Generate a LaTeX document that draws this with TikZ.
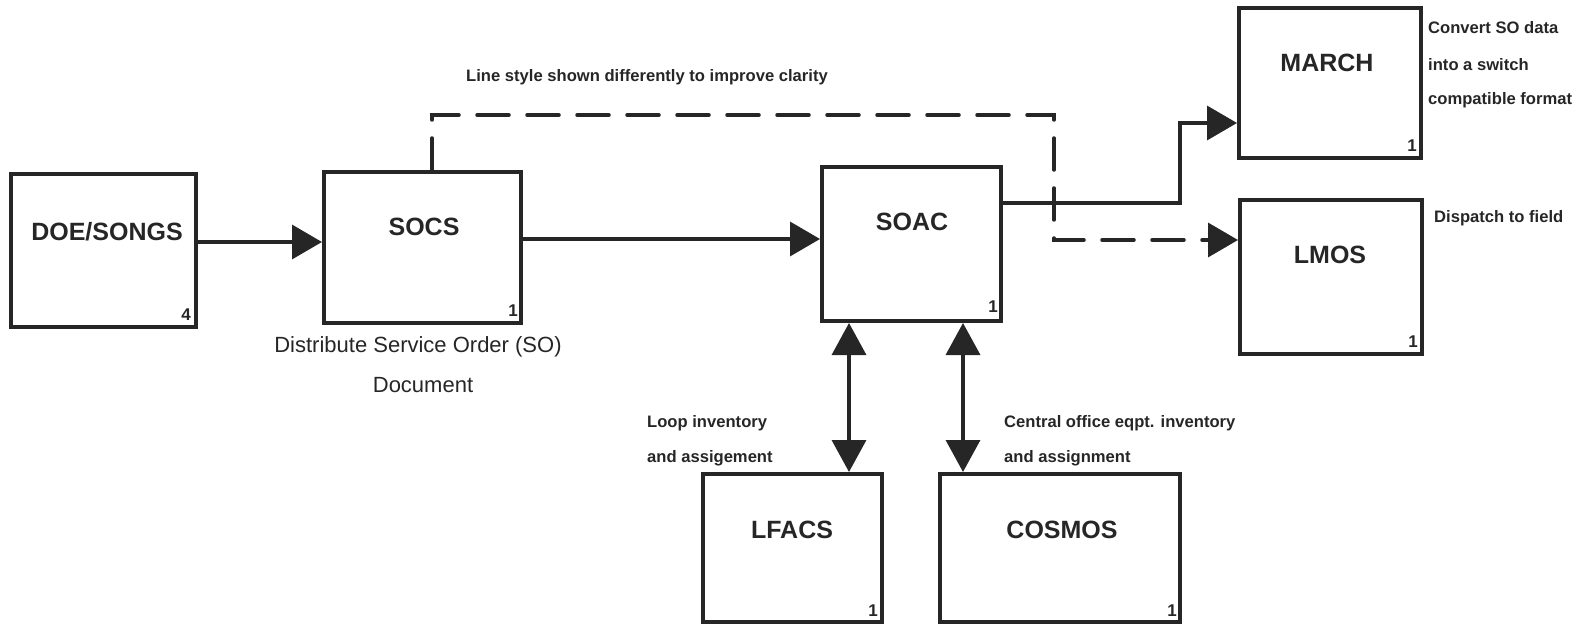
\documentclass[tikz,border=0pt]{standalone}
\usepackage{fontspec}
\setmainfont{Liberation Sans}
\usetikzlibrary{arrows.meta}
\definecolor{ink}{HTML}{262626}
\tikzset{
  box/.style={draw=ink, line width=4pt, inner sep=0pt},
  boxlbl/.style={text=ink, font=\fontsize{25}{28}\selectfont\bfseries, inner sep=0pt},
  num/.style={text=ink, font=\fontsize{17}{19}\selectfont\bfseries, inner sep=0pt, anchor=south east},
  note/.style={text=ink, font=\fontsize{16.6}{18}\selectfont\bfseries, inner sep=0pt, anchor=west},
  plain/.style={text=ink, font=\fontsize{22}{26}\selectfont, inner sep=0pt},
  arr/.style={draw=ink, line width=3.5pt, -{Triangle[length=30pt,width=34pt]}},
  darr/.style={arr, line cap=round, dash pattern=on 32pt off 18pt},
  dbl/.style={draw=ink, line width=3.5pt, {Triangle[length=32pt,width=34pt]}-{Triangle[length=32pt,width=34pt]}}
}
\begin{document}
\begin{tikzpicture}[x=1pt,y=-1pt]
\useasboundingbox (0,0) rectangle (1579,631);
% boxes
\node[box, minimum width=185pt, minimum height=153pt] (doe) at (103.5,250.5) {};
\node[box, minimum width=197pt, minimum height=151pt] (socs) at (422.5,247.5) {};
\node[box, minimum width=179pt, minimum height=154pt] (soac) at (911.5,244) {};
\node[box, minimum width=182pt, minimum height=150pt] (march) at (1330,83) {};
\node[box, minimum width=182pt, minimum height=154pt] (lmos) at (1331,277) {};
\node[box, minimum width=179pt, minimum height=148pt] (lfacs) at (792.5,548) {};
\node[box, minimum width=240pt, minimum height=148pt] (cosmos) at (1060,548) {};
% box labels
\node[boxlbl] (doet) at (107,232) {DOE/SONGS};
\node[boxlbl] (socst) at (424,227) {SOCS};
\node[boxlbl] (soact) at (912,222) {SOAC};
\node[boxlbl] (marcht) at (1327,63) {MARCH};
\node[boxlbl] (lmost) at (1330,255) {LMOS};
\node[boxlbl] (lfacst) at (792,530) {LFACS};
\node[boxlbl] (cosmost) at (1062,530) {COSMOS};
% numbers
\node[num] (doen) at ([xshift=-7pt,yshift=8pt]doe.south east) {4};
\node[num] (socsn) at ([xshift=-5pt,yshift=8pt]socs.south east) {1};
\node[num] (soacn) at ([xshift=-5pt,yshift=10pt]soac.south east) {1};
\node[num] (marchn) at ([xshift=-6pt,yshift=8pt]march.south east) {1};
\node[num] (lmosn) at ([xshift=-6pt,yshift=8pt]lmos.south east) {1};
\node[num] (lfacsn) at ([xshift=-6pt,yshift=7pt]lfacs.south east) {1};
\node[num] (cosmosn) at ([xshift=-5pt,yshift=7pt]cosmos.south east) {1};
% text
\node[plain] (dist1) at (418,347) {Distribute Service Order (SO)};
\node[plain] (dist2) at (423,385) {Document};
\node[note] (clar) at (466,77) {Line style shown differently to improve clarity};
\node[note] (conv1) at (1428,28) {Convert SO data};
\node[note] (conv2) at (1428,65) {into a switch};
\node[note] (conv3) at (1428,100) {compatible format};
\node[note] (disp) at (1434,218) {Dispatch to field};
\node[note] (loop1) at (647,423) {Loop inventory};
\node[note] (loop2) at (647,458) {and assigement};
\node[note] (cent1) at (1004,423) {Central office eqpt. inventory};
\node[note] (cent2) at (1004,458) {and assignment};
% coordinates
\coordinate (ya) at (0,242);
\coordinate (yb) at (0,239);
\coordinate (yc) at (0,203);
\coordinate (mc) at (1180,123);
\coordinate (d1) at (432,115);
\coordinate (d2) at (1054,115);
\coordinate (d3) at (1054,240);
\coordinate (xl) at (849,0);
\coordinate (xr) at (963,0);
% connectors
\draw[arr] (doe.east |- ya) -- (socs.west |- ya);
\draw[arr] (socs.east |- yb) -- (soac.west |- yb);
\draw[arr] (soac.east |- yc) -| (mc) -- (march.west |- mc);
\draw[darr] (socs.north -| d1) -- (d1) -- (d2) -- (d3) -- (lmos.west |- d3);
\draw[dbl] (soac.south -| xl) -- (lfacs.north -| xl);
\draw[dbl] (soac.south -| xr) -- (cosmos.north -| xr);
\end{tikzpicture}
\end{document}
